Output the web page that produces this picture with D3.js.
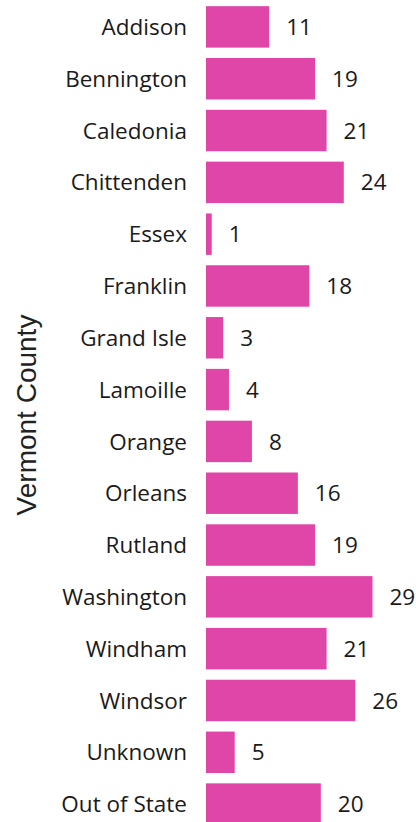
<!DOCTYPE html>
<html>
<head>
<meta charset="utf-8">
<script src="https://cdn.jsdelivr.net/npm/d3@7"></script>
<style>
  html, body { margin: 0; padding: 0; background: #fff; }
  svg { display: block; }
</style>
</head>
<body>
<svg id="chart" width="416" height="822"></svg>
<script>
// counties and counts
const counties = ["Addison", "Bennington", "Caledonia", "Chittenden", "Essex", "Franklin",
  "Grand Isle", "Lamoille", "Orange", "Orleans", "Rutland", "Washington", "Windham",
  "Windsor", "Unknown", "Out of State"];
const counts = [11, 19, 21, 24, 1, 18, 3, 4, 8, 16, 19, 29, 21, 26, 5, 20];

const width = 416;
const height = 822;

const svg = d3.select("#chart");

const y = d3.scaleBand()
  .domain(counties)
  .range([1, 830])
  .paddingInner(0.2)
  .paddingOuter(0.1);

const x = d3.scaleLinear()
  .domain([0, 29])
  .range([206, 372.5]);

const data = counties.map((c, i) => ({ county: c, value: counts[i] }));

// bars
svg.append("g")
  .selectAll("rect")
  .data(data)
  .enter().append("rect")
  .attr("x", x(0))
  .attr("y", d => y(d.county))
  .attr("width", d => x(d.value) - x(0))
  .attr("height", y.bandwidth())
  .attr("fill", "#e046a8");

// county labels
svg.append("g")
  .selectAll("text")
  .data(data)
  .enter().append("text")
  .attr("x", 187)
  .attr("y", d => y(d.county) + y.bandwidth() / 2)
  .attr("dy", "0.36em")
  .attr("text-anchor", "end")
  .attr("font-family", "'Open Sans', sans-serif")
  .attr("font-size", 22.5)
  .attr("fill", "#1a1a1a")
  .text(d => d.county);

// value labels
svg.append("g")
  .selectAll("text")
  .data(data)
  .enter().append("text")
  .attr("x", d => x(d.value) + 17)
  .attr("y", d => y(d.county) + y.bandwidth() / 2)
  .attr("dy", "0.36em")
  .attr("font-family", "'Open Sans', sans-serif")
  .attr("font-size", 22.5)
  .attr("fill", "#1a1a1a")
  .text(d => d.value);

// axis title
svg.append("text")
  .attr("transform", "translate(36,415) rotate(-90)")
  .attr("text-anchor", "middle")
  .attr("font-family", "'Liberation Sans', Arial, sans-serif")
  .attr("font-size", 28)
  .attr("fill", "#222")
  .text("Vermont County");
</script>
</body>
</html>
